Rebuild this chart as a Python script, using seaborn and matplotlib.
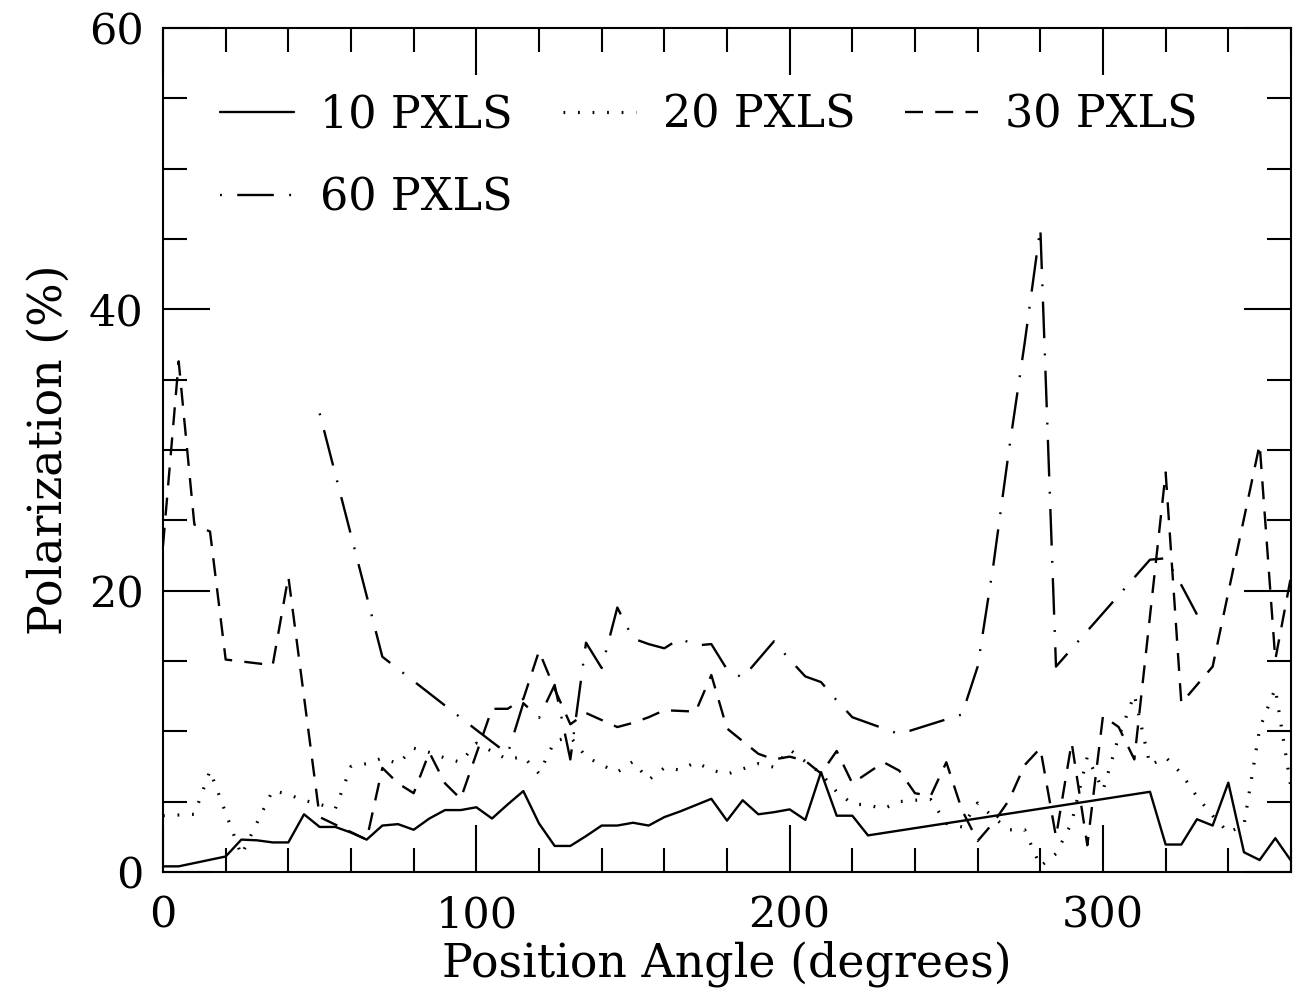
import matplotlib
matplotlib.use("Agg")
import matplotlib.pyplot as plt
import numpy as np
import pandas as pd
import seaborn as sns
from matplotlib.ticker import MultipleLocator, FixedLocator

# ---------------- data ----------------
angle_10 = [0, 5, 20, 25, 30, 35, 40, 45, 50, 55, 60, 65, 70, 75, 80, 85, 90, 95,
            100, 105, 110, 115, 120, 125, 130, 135, 140, 145, 150, 155, 160, 165,
            170, 175, 180, 185, 190, 195, 200, 205, 210, 215, 220, 225, 315, 320,
            325, 330, 335, 340, 345, 350, 355, 360]
pol_10 = [0.4, 0.4, 1.1, 2.3, 2.25, 2.1, 2.1, 4.1, 3.2, 3.2, 2.8, 2.3, 3.3, 3.4,
          3.0, 3.8, 4.4, 4.4, 4.6, 3.8, 4.8, 5.75, 3.45, 1.85, 1.85, 2.55, 3.3,
          3.3, 3.5, 3.3, 3.9, 4.3, 4.75, 5.2, 3.65, 5.1, 4.1, 4.25, 4.45, 3.7, 7.1,
          4.0, 4.0, 2.6, 5.7, 1.95, 1.95, 3.75, 3.3, 6.35, 1.4, 0.85, 2.4, 0.8]

angle_20 = [0, 10, 15, 25, 35, 40, 45, 50, 55, 60, 65, 70, 75, 80, 85, 90, 95,
            100, 110, 115, 120, 125, 130, 135, 140, 145, 150, 155, 160, 165, 170,
            175, 180, 190, 195, 200, 205, 210, 215, 220, 225, 230, 235, 240, 245,
            250, 255, 260, 265, 270, 275, 280, 285, 290, 295, 300, 305, 310, 315,
            320, 325, 330, 335, 340, 345, 350, 355, 360]
pol_20 = [4.0, 4.1, 7.2, 1.2, 5.8, 5.5, 5.1, 4.8, 4.5, 7.5, 7.7, 8.1, 7.7, 8.8,
          8.5, 8.1, 7.8, 9.15, 8.0, 8.2, 7.0, 9.3, 9.6, 8.2, 7.6, 7.1, 7.85,
          6.55, 7.4, 7.25, 7.8, 7.25, 6.95, 7.7, 7.45, 8.7, 7.85, 7.0, 5.7, 4.85,
          4.75, 4.5, 5.0, 5.1, 5.15, 3.45, 3.2, 4.9, 3.9, 3.0, 3.0, 0.4, 1.3, 3.5,
          8.2, 5.8, 9.6, 12.6, 7.6, 8.15, 7.0, 5.35, 4.0, 2.8, 3.35, 10.2, 13.05,
          6.0]

angle_30 = [0, 5, 10, 15, 20, 35, 40, 50, 65, 70, 75, 80, 85, 90, 95, 105, 110,
            115, 120, 125, 130, 135, 140, 145, 150, 155, 160, 165, 170, 175, 180,
            185, 190, 195, 200, 205, 210, 215, 220, 230, 235, 240, 245, 250, 255,
            260, 265, 270, 275, 280, 285, 290, 295, 300, 305, 310, 320, 325, 335,
            350, 355, 360]
pol_30 = [23.2, 36.3, 24.7, 24.2, 15.1, 14.7, 21.0, 3.9, 2.3, 7.4, 6.3, 5.6, 8.5,
          6.3, 5.2, 11.6, 11.6, 12.3, 15.7, 13.0, 10.5, 11.3, 10.8, 10.3, 10.6,
          11.0, 11.5, 11.45, 11.4, 14.0, 10.2, 9.3, 8.4, 8.0, 8.2, 7.9, 7.0, 8.6,
          6.3, 7.8, 7.2, 5.6, 5.4, 7.8, 4.4, 2.2, 3.5, 5.1, 7.6, 8.8, 2.5, 9.2,
          1.9, 11.1, 10.3, 8.0, 28.4, 12.0, 14.6, 30.4, 15.1, 21.0]

angle_60 = [50, 70, 100, 110, 115, 120, 125, 130, 135, 140, 145, 150, 155, 160,
            165, 170, 175, 180, 185, 195, 200, 205, 210, 215, 220, 235, 255, 260,
            265, 270, 275, 280, 285, 315, 320, 325, 330]
pol_60 = [32.6, 15.3, 10.1, 8.4, 12.0, 10.95, 13.3, 8.0, 16.3, 14.5, 18.8, 16.6,
          16.2, 15.9, 16.6, 16.1, 16.2, 14.4, 13.8, 16.4, 15.1, 13.9, 13.5, 12.2,
          11.0, 9.8, 11.2, 14.6, 21.8, 30.0, 37.6, 45.8, 14.6, 22.2, 22.3, 20.4,
          18.3]

labels = ["10 PXLS", "20 PXLS", "30 PXLS", "60 PXLS"]
x_ticks = [0, 100, 200, 300]
y_ticks = [0, 20, 40, 60]

# ---------------- style ----------------
sns.set_theme(style="ticks")
plt.rcParams['font.family'] = ['DejaVu Serif']
plt.rcParams.update({
    "text.color": "black", "axes.labelcolor": "black",
    "xtick.color": "black", "ytick.color": "black",
    "axes.edgecolor": "black", "axes.linewidth": 1.5,
})

fig = plt.figure(figsize=(13.01, 9.92), dpi=100)
ax = fig.add_axes([0.1253, 0.1210, 0.8670, 0.8508])

lw = 1.7
styles = [
    "-",
    (0, (0.55, 4.0)),
    (0, (7.6, 5.2)),
    (22.0, (15.5, 6.5, 0.8, 6.5)),
]
widths = [lw, 2.3, lw, lw]
series = [(angle_10, pol_10), (angle_20, pol_20), (angle_30, pol_30), (angle_60, pol_60)]

handles = []
for (xs, ys), lab, ls, w in zip(series, labels, styles, widths):
    df = pd.DataFrame({"angle": xs, "pol": ys})
    sns.lineplot(data=df, x="angle", y="pol", ax=ax, color="black",
                 linewidth=w, linestyle=ls,
                 sort=False, estimator=None, label=lab, legend=False)
    handles.append(ax.lines[-1])

ax.set_xlim(0, 360)
ax.set_ylim(0, 60)
ax.xaxis.set_major_locator(FixedLocator(x_ticks))
ax.xaxis.set_minor_locator(MultipleLocator(20))
ax.yaxis.set_major_locator(FixedLocator(y_ticks))
ax.yaxis.set_minor_locator(MultipleLocator(5))

ax.tick_params(which="both", direction="in", top=True, right=True,
               labelsize=31, width=1.5)
ax.tick_params(which="major", length=34)
ax.tick_params(which="minor", length=17)
ax.tick_params(axis="x", which="major", pad=16)
ax.tick_params(axis="y", which="major", pad=14)

ax.set_xlabel("Position Angle (degrees)", fontsize=33, labelpad=3)
ax.set_ylabel("Polarization (%)", fontsize=33, labelpad=12)

order = [0, 3, 1, 2]
leg = ax.legend([handles[i] for i in order], [labels[i] for i in order],
                ncol=3, loc="upper left", bbox_to_anchor=(0.035, 0.944),
                frameon=False, fontsize=32, handlelength=1.65,
                handletextpad=0.6, columnspacing=1.12, labelspacing=0.9,
                borderaxespad=0)

fig.savefig("out.png", dpi=100)
